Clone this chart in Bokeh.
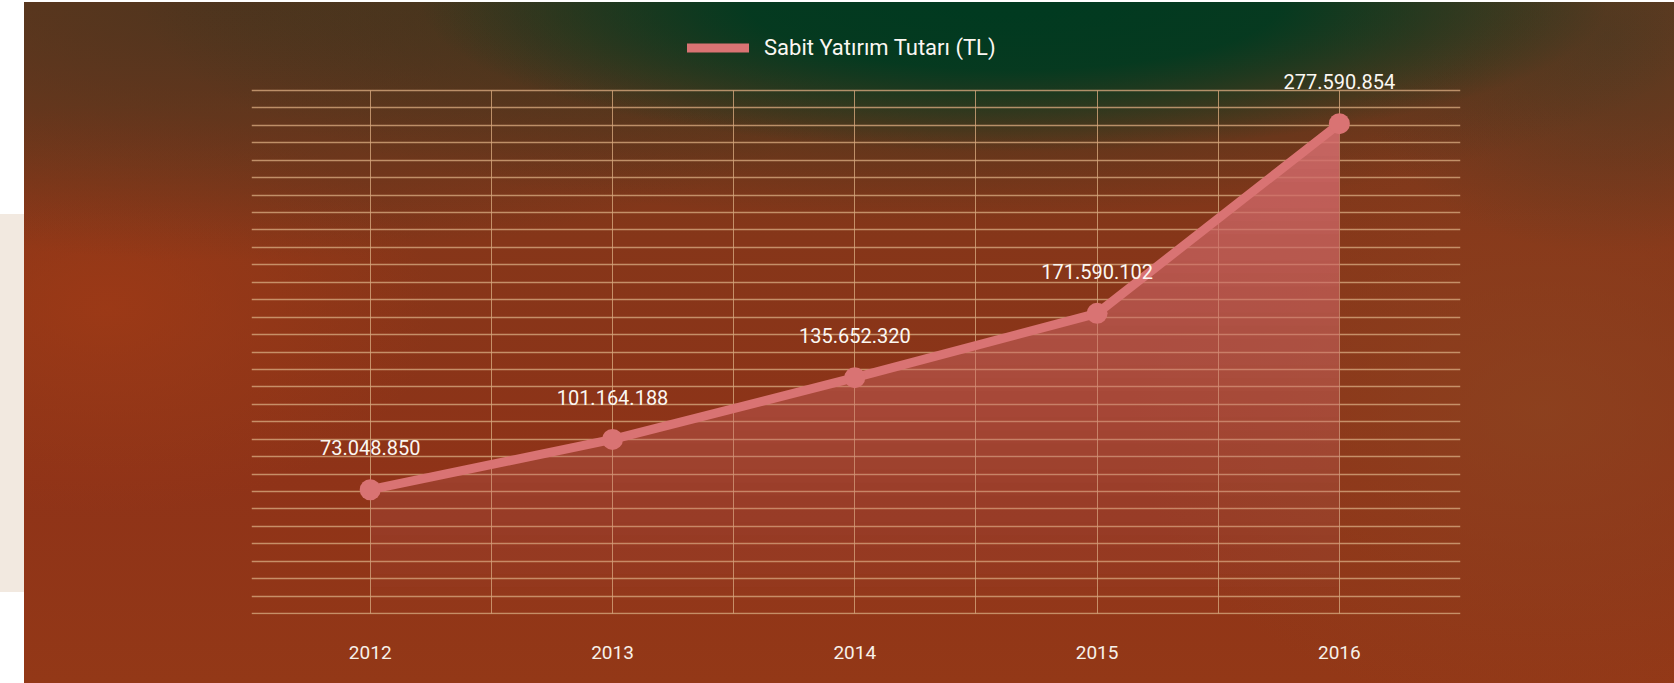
import numpy as np
from bokeh.plotting import figure
from bokeh.models import Range1d, FixedTicker, Legend, LegendItem, Div
from bokeh.layouts import row
from bokeh.core.properties import value
from bokeh.embed import file_html
from bokeh.resources import INLINE

# ---- data ----
years = [2012, 2013, 2014, 2015, 2016]
values = [73048850, 101164188, 135652320, 171590102, 277590854]
labels = [f"{v:,}".replace(",", ".") for v in values]
series_name = "Sabit Yatırım Tutarı (TL)"

LINE_C = "#d97373"
FONT = "Roboto"

# value extent covered by the grid
y_lo, y_hi = 3.9e6, 296.1e6
n_lines = 31
step = (y_hi - y_lo) / (n_lines - 1)
eps = step * 0.06

FIG_W, FIG_H = 1650, 681
B_LEFT, B_RIGHT, B_BOTTOM = 227, 214, 69
GRID_PX = 525                       # pixel height of the gridded area
FRAME_H = FIG_H - B_BOTTOM          # frame runs to the top so the legend fits in it
ppu = GRID_PX / (y_hi - y_lo + 2 * eps)
y_start = y_lo - eps
y_end = y_start + FRAME_H / ppu

p = figure(width=FIG_W, height=FIG_H, output_backend="svg", toolbar_location=None,
           x_range=Range1d(2011.51, 2016.5), y_range=Range1d(y_start, y_end),
           min_border_left=B_LEFT, min_border_right=B_RIGHT, min_border_top=0, min_border_bottom=B_BOTTOM)
p.margin = (2, 0, 0, 0)
p.background_fill_color = None
p.border_fill_color = None
p.outline_line_color = None
p.styles = {
    "background-image": (
        "radial-gradient(ellipse 36% 22% at 60% 0%, rgba(0,58,32,1) 0%, rgba(0,58,32,0.92) 45%, rgba(0,58,32,0) 100%),"
        "radial-gradient(ellipse 48% 32% at 55% 0%, rgba(30,50,28,0.7) 0%, rgba(30,50,28,0) 100%),"
        "radial-gradient(ellipse 42% 38% at 12% 0%, rgba(78,52,30,0.9) 0%, rgba(78,52,30,0) 100%),"
        "radial-gradient(ellipse 16% 32% at 96% 5%, rgba(82,58,34,0.8) 0%, rgba(82,58,34,0) 100%),"
        "radial-gradient(ellipse 20% 30% at 5% 45%, rgba(160,58,22,0.8) 0%, rgba(160,58,22,0) 100%),"
        "radial-gradient(ellipse 25% 45% at 92% 60%, rgba(140,68,32,0.75) 0%, rgba(140,68,32,0) 100%),"
        "linear-gradient(to bottom, #6a3a1e 0%, #863619 35%, #8f3318 70%, #933817 100%)"
    ),
    "background-color": "#8a3519",
}

# grid
p.ygrid.ticker = FixedTicker(ticks=list(np.linspace(y_lo, y_hi, n_lines)))
p.ygrid.grid_line_color = "#d4a67c"
p.ygrid.grid_line_alpha = 0.8
p.ygrid.grid_line_width = 1.5
x_grid_ticks = [2012 + 0.5 * k for k in range(9)]
try:
    p.xgrid.cross_bounds = (y_lo, y_hi)
    p.xgrid.ticker = FixedTicker(ticks=x_grid_ticks)
    p.xgrid.grid_line_color = "#d4a67c"
    p.xgrid.grid_line_alpha = 0.8
    p.xgrid.grid_line_width = 1
except AttributeError:
    p.xgrid.visible = False
    p.segment(x0=x_grid_ticks, y0=[y_lo] * 9, x1=x_grid_ticks, y1=[y_hi] * 9,
              line_color="#d4a67c", line_alpha=0.8, line_width=1, level="underlay")

p.yaxis.visible = False
p.xaxis.ticker = FixedTicker(ticks=years)
p.xaxis.axis_line_color = None
p.xaxis.major_tick_line_color = None
p.xaxis.minor_tick_line_color = None
p.xaxis.major_tick_out = 0
p.xaxis.major_label_standoff = 31
p.xaxis.major_label_text_font = FONT
p.xaxis.major_label_text_font_size = "19px"
p.xaxis.major_label_text_color = "#f7f1ea"

# gradient-like area fill: stacked translucent bands
N = 40
A_top = 0.95
prev_T = 0.0
vals_arr = np.array(values, dtype=float)
yrs_arr = np.array(years, dtype=float)
for k in range(N):
    h = y_lo + k * (y_hi - y_lo) / N
    if h >= vals_arr.max():
        break
    T = A_top * (k + 1) / N
    a = 1 - (1 - T) / (1 - prev_T)
    prev_T = T
    if h <= vals_arr[0]:
        xs = list(yrs_arr)
        ys = list(vals_arr)
    else:
        xc = float(np.interp(h, vals_arr, yrs_arr))
        mask = vals_arr > h
        xs = [xc] + list(yrs_arr[mask])
        ys = [h] + list(vals_arr[mask])
    p.varea(x=xs, y1=[h] * len(xs), y2=ys, fill_color=LINE_C, fill_alpha=a)

line_r = p.line(years, values, line_color=LINE_C, line_width=9, line_cap="round", line_join="round")
p.scatter(years, values, size=21, fill_color=LINE_C, line_color=None)

p.text(x=years, y=values, text=labels, y_offset=-42, text_align="center", text_baseline="middle",
       text_font=value(FONT), text_font_size="20px", text_color="#fbf7f2")

legend = Legend(items=[LegendItem(label=series_name, renderers=[line_r])],
                location=(436, 554), orientation="horizontal",
                border_line_color=None, background_fill_alpha=0, padding=0, margin=0,
                glyph_width=62, glyph_height=25, label_height=25, label_standoff=15,
                label_text_font=FONT, label_text_font_size="22px", label_text_color="#fbf7f2",
                label_text_baseline="middle")
p.add_layout(legend)

strip = Div(width=24, height=378, margin=(214, 0, 0, 0), styles={"background-color": "#f2e9e0"})
layout = row(strip, p)

open("out.html", "w").write(file_html(layout, INLINE))
